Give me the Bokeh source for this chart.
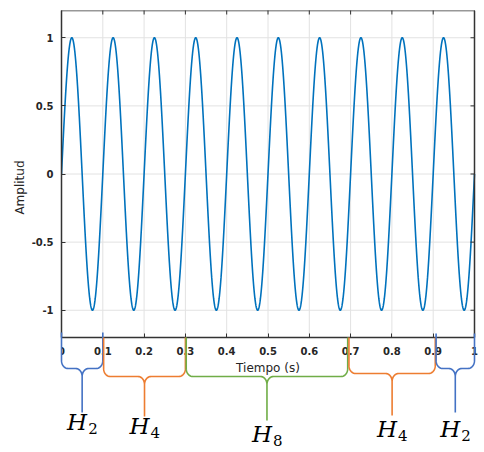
import numpy as np
from bokeh.plotting import figure
from bokeh.models import Range1d, LinearAxis, FixedTicker, Title
from bokeh.core.properties import value
from bokeh.embed import file_html
from bokeh.resources import INLINE

# ---------------- data ----------------
amplitude = 1.0          # peak amplitude
frequency_hz = 10.0      # 10 full cycles between 0 and 1 s
t_start, t_end = 0.0, 1.0

x_ticks = [0.0, 0.1, 0.2, 0.3, 0.4, 0.5, 0.6, 0.7, 0.8, 0.9, 1.0]
x_tick_labels = ["0", "0.1", "0.2", "0.3", "0.4", "0.5", "0.6", "0.7", "0.8", "0.9", "1"]
y_ticks = [-1.0, -0.5, 0.0, 0.5, 1.0]
y_tick_labels = ["-1", "-0.5", "0", "0.5", "1"]

segment_starts = [0.0, 0.102, 0.302, 0.696, 0.907]
segment_ends = [0.1, 0.3, 0.693, 0.905, 1.0]
segment_letters = ["H", "H", "H", "H", "H"]
segment_subscripts = ["2", "4", "8", "4", "2"]

# ---------------- style / layout ----------------
seg_colors = ["#4472C4", "#ED7D31", "#70AD47", "#ED7D31", "#4472C4"]
# pixel depths below the x axis: (top, horizontal, tip, label baseline)
seg_depths = [(-5, 31, 75, 84), (0, 39, 79, 88), (0, 39, 83, 96),
              (0, 36, 78, 91), (-4, 31, 75, 91)]

W, H = 484, 452
left_px, top_px = 61, 10
box_w, box_h = 413, 327          # pixel size of the axes box
y_lo, y_hi = -1.2, 1.2
px_x = box_w / (t_end - t_start)
px_y = box_h / (y_hi - y_lo)
x_max = t_end + (W - left_px - box_w) / px_x
y_min = y_hi - (H - top_px) / px_y

p = figure(width=W, height=H, output_backend="svg", toolbar_location=None,
           x_range=Range1d(t_start, x_max), y_range=Range1d(y_min, y_hi),
           x_axis_location=None, y_axis_location=None,
           min_border_left=left_px, min_border_right=0,
           min_border_top=top_px, min_border_bottom=0)
p.outline_line_color = None
p.grid.visible = False
p.background_fill_color = "white"
p.border_fill_color = "white"

axis_color = "#333333"
text_color = "#262626"


def style_axis(ax):
    ax.axis_line_color = axis_color
    ax.axis_line_width = 1.5
    ax.major_tick_line_color = axis_color
    ax.major_tick_in = 4
    ax.major_tick_out = 0
    ax.minor_tick_line_color = None
    ax.major_label_text_font = "DejaVu Sans"
    ax.major_label_text_font_size = "10px"
    ax.major_label_text_font_style = "bold"
    ax.major_label_text_color = text_color
    ax.axis_label_text_font = "DejaVu Sans"
    ax.axis_label_text_font_style = "normal"
    ax.axis_label_text_font_size = "12px"
    ax.axis_label_text_color = text_color


left = LinearAxis(ticker=FixedTicker(ticks=y_ticks), bounds=(y_lo, y_hi),
                  major_label_overrides=dict(zip(y_ticks, y_tick_labels)))
style_axis(left)
left.major_label_standoff = 8
p.add_layout(left, "left")

bottom = LinearAxis(ticker=FixedTicker(ticks=x_ticks), bounds=(t_start, t_end),
                    fixed_location=y_lo,
                    major_label_overrides=dict(zip(x_ticks, x_tick_labels)),
                    axis_label="Tiempo (s)")
style_axis(bottom)
bottom.major_label_standoff = 9
bottom.axis_label_standoff = 3
p.add_layout(bottom, "below")

# box edges on the top and right: plain axis lines without labels
right = LinearAxis(ticker=FixedTicker(ticks=[]), bounds=(y_lo, y_hi), fixed_location=t_end)
style_axis(right)
p.add_layout(right, "right")
top = LinearAxis(ticker=FixedTicker(ticks=[]), bounds=(t_start, t_end), fixed_location=y_hi)
style_axis(top)
p.add_layout(top, "above")

# inward tick marks on the top and right edges
tick_len = 4
p.segment(x0=x_ticks, y0=[y_hi] * len(x_ticks), x1=x_ticks,
          y1=[y_hi - tick_len / px_y] * len(x_ticks),
          line_color=axis_color, line_width=1, level="overlay")
p.segment(x0=[t_end] * len(y_ticks), y0=y_ticks, x1=[t_end - tick_len / px_x] * len(y_ticks),
          y1=y_ticks, line_color=axis_color, line_width=1, level="overlay")

# y-axis title as a side-panel title, placed beside the box
p.add_layout(Title(text="Amplitud", align="right", offset=150, standoff=4,
                   text_font="DejaVu Sans", text_font_size="12px",
                   text_font_style="normal", text_color=text_color), "left")

# grid lines limited to the box
grid_color = "#e2e2e2"
p.segment(x0=x_ticks, y0=[y_lo] * len(x_ticks), x1=x_ticks, y1=[y_hi] * len(x_ticks),
          line_color=grid_color, line_width=1, level="underlay")
p.segment(x0=[t_start] * len(y_ticks), y0=y_ticks, x1=[t_end] * len(y_ticks), y1=y_ticks,
          line_color=grid_color, line_width=1, level="underlay")

# signal
t = np.linspace(t_start, t_end, 3001)
signal = amplitude * np.sin(2 * np.pi * frequency_hz * t)
p.line(t, signal, line_color="#0072BD", line_width=1.6)


# braces
def brace(xl, xr, d_top, d_mid, d_tip, rx_px=6.5, ry_px=8.0):
    rx, ry = rx_px / px_x, ry_px / px_y
    yt = y_lo - d_top / px_y
    yh = y_lo - d_mid / px_y
    yb = y_lo - d_tip / px_y
    xc = (xl + xr) / 2
    xs, ys = [xl], [yt]
    a = np.linspace(np.pi, 1.5 * np.pi, 12)
    xs += list(xl + rx + rx * np.cos(a)); ys += list(yh + ry + ry * np.sin(a))
    a = np.linspace(0.5 * np.pi, 0.0, 12)
    xs += list(xc - rx + rx * np.cos(a)); ys += list(yh - ry + ry * np.sin(a))
    xs += [xc]; ys += [yb]
    a = np.linspace(np.pi, 0.5 * np.pi, 12)
    xs += [xc] + list(xc + rx + rx * np.cos(a)); ys += [yb] + list(yh - ry + ry * np.sin(a))
    a = np.linspace(1.5 * np.pi, 2 * np.pi, 12)
    xs += list(xr - rx + rx * np.cos(a)); ys += list(yh + ry + ry * np.sin(a))
    xs += [xr]; ys += [yt]
    return xs, ys


bx, by = [], []
for xl, xr, d in zip(segment_starts, segment_ends, seg_depths):
    xs, ys = brace(xl, xr, d[0], d[1], d[2])
    bx.append(xs); by.append(ys)
p.multi_line(bx, by, line_color=seg_colors, line_width=1.6, level="overlay")

centers = [(a + b) / 2 for a, b in zip(segment_starts, segment_ends)]
base_y = [y_lo - d[3] / px_y for d in seg_depths]
p.text(x=centers, y=base_y, text=segment_letters, text_font=value("DejaVu Serif"),
       text_font_style="italic", text_font_size="23px", text_color="black",
       text_align="center", text_baseline="alphabetic", x_offset=-5)
p.text(x=centers, y=base_y, text=segment_subscripts, text_font=value("DejaVu Serif"),
       text_font_size="15px", text_color="black",
       text_align="left", text_baseline="alphabetic", x_offset=6, y_offset=7)

open("out.html", "w").write(file_html(p, INLINE))
